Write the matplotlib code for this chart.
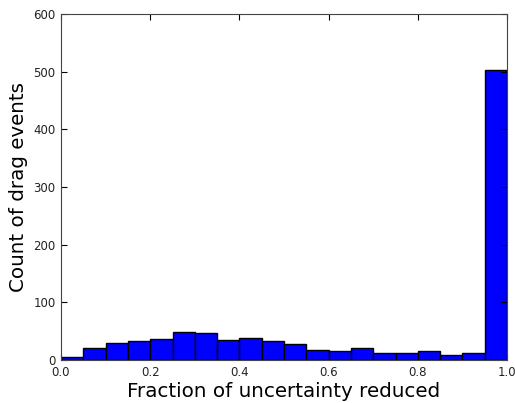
import numpy as np
import matplotlib
matplotlib.use("Agg")
import matplotlib.pyplot as plt

# counts per bin, 20 bins of width 0.05 from 0 to 1
bin_edges = np.linspace(0.0, 1.0, 21)
counts = [6, 20, 30, 33, 37, 48, 46, 35, 39, 33,
          27, 18, 16, 20, 12, 13, 15, 8, 13, 503]

fig = plt.figure(figsize=(5.15, 4.03), dpi=100)
ax = fig.add_axes([61/515, 1 - 360/403, (507-61)/515, (360-14)/403])

centers = (bin_edges[:-1] + bin_edges[1:]) / 2
ax.hist(centers, bins=bin_edges, weights=counts, color='#0000ff',
        edgecolor='black', linewidth=1.0)

ax.set_xlim(0, 1)
ax.set_ylim(0, 600)
ax.set_xticks(np.arange(0, 1.01, 0.2))
ax.set_yticks(np.arange(0, 601, 100))
ax.tick_params(direction='in', top=True, right=True, labelsize=8.5,
               length=4, pad=4, labelcolor='#222222')
for s in ax.spines.values():
    s.set_color('#444444')
ax.set_xlabel('Fraction of uncertainty reduced', fontsize=14.3, labelpad=2.5)
ax.set_ylabel('Count of drag events', fontsize=14.3, labelpad=4)

fig.savefig('out.png', dpi=100)
